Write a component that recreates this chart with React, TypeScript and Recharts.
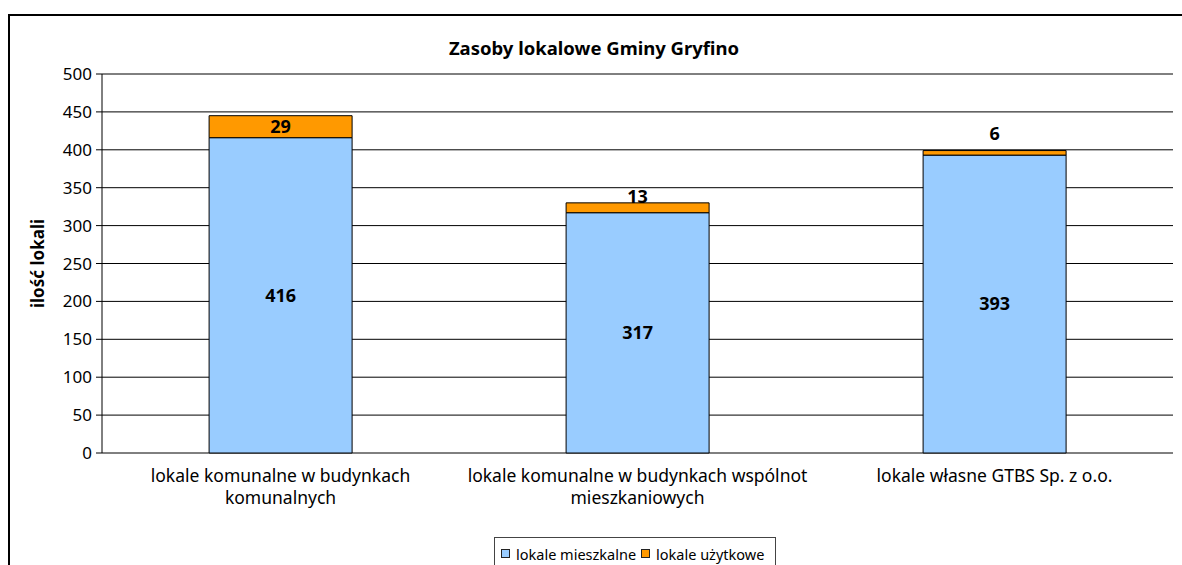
import { BarChart, Bar, XAxis, YAxis, CartesianGrid, LabelList } from "recharts";

const categories = [
  "lokale komunalne w budynkach\nkomunalnych",
  "lokale komunalne w budynkach wspólnot\nmieszkaniowych",
  "lokale własne GTBS Sp. z o.o.",
];
const mieszkalne = [416, 317, 393];
const uzytkowe = [29, 13, 6];
const yTicks = [0, 50, 100, 150, 200, 250, 300, 350, 400, 450, 500];
const edgeTicks = [0, 1, 2, 3];

const data = categories.map((name, i) => ({ name, mieszkalne: mieszkalne[i], uzytkowe: uzytkowe[i] }));

const FONT = "'Noto Sans', sans-serif";
const BLUE = "#99ccff";
const ORANGE = "#ff9900";

function CategoryTick({ x, y, payload }: any) {
  const lines = String(payload.value).split("\n");
  return (
    <text x={x} y={y} textAnchor="middle" fontSize={17.5} fontFamily={FONT} fill="#000">
      {lines.map((l, i) => (
        <tspan key={i} x={x} dy={i === 0 ? 21 : 22}>
          {l}
        </tspan>
      ))}
    </text>
  );
}

// small segments get their label lifted above the bar, like the original
function TopLabel({ x, y, width, height, value }: any) {
  const cy = height >= 16 ? y + height / 2 : y - (26 - 2 * height);
  return (
    <text x={x + width / 2} y={cy} dy="0.35em" textAnchor="middle" fontSize={18} fontWeight="bold" fontFamily={FONT} fill="#000">
      {value}
    </text>
  );
}

function LegendBox() {
  const item = (color: string, text: string) => (
    <span style={{ display: "inline-flex", alignItems: "center", marginRight: 5 }}>
      <span style={{ width: 7, height: 7, background: color, border: "1px solid #222", marginRight: 6, display: "inline-block" }} />
      {text}
    </span>
  );
  return (
    <div
      style={{
        position: "absolute",
        left: 494,
        top: 537,
        width: 282,
        height: 40,
        border: "1px solid #444",
        fontFamily: FONT,
        fontSize: 14.5,
        lineHeight: "20px",
        padding: "4px 0 0 6px",
        boxSizing: "border-box",
        whiteSpace: "nowrap",
      }}
    >
      {item(BLUE, "lokale mieszkalne")}
      {item(ORANGE, "lokale użytkowe")}
    </div>
  );
}

export default function App() {
  return (
    <div style={{ position: "absolute", left: 0, top: 0, width: 1182, height: 565, overflow: "hidden", background: "#fff" }}>
      <div style={{ position: "absolute", left: 8, top: 14, width: 1300, height: 700, border: "2px solid #000" }} />
      <div
        style={{
          position: "absolute",
          left: 0,
          width: 1188,
          top: 35,
          textAlign: "center",
          fontFamily: FONT,
          fontWeight: "bold",
          fontSize: 18.5,
        }}
      >
        Zasoby lokalowe Gminy Gryfino
      </div>
      <div style={{ position: "absolute", left: 0, top: 0 }}>
        <BarChart width={1182} height={565} data={data} margin={{ top: 74, right: 9, left: 8, bottom: 52 }} barCategoryGap="30%">
          <CartesianGrid vertical={false} stroke="#000" />
          <XAxis
            xAxisId="edges"
            type="number"
            domain={[0, 3]}
            ticks={edgeTicks}
            height={0}
            tick={() => <g />}
            tickSize={5}
            tickLine={{ stroke: "#000" }}
            axisLine={{ stroke: "#000" }}
          />
          <XAxis dataKey="name" height={60} axisLine={false} tickLine={false} tick={<CategoryTick />} interval={0} />
          <YAxis
            width={94}
            domain={[0, 500]}
            ticks={yTicks}
            interval={0}
            tickSize={6}
            tickMargin={4}
            axisLine={{ stroke: "#000" }}
            tickLine={{ stroke: "#000" }}
            tick={{ fill: "#000", fontSize: 17, fontFamily: FONT }}
            label={{
              value: "ilość lokali",
              angle: -90,
              position: "insideLeft",
              offset: 30,
              style: { textAnchor: "middle", fontWeight: "bold", fontSize: 17, fontFamily: FONT, fill: "#000" },
            }}
          />
          <Bar dataKey="mieszkalne" stackId="a" fill={BLUE} stroke="#000" strokeWidth={1} isAnimationActive={false}>
            <LabelList dataKey="mieszkalne" position="center" fill="#000" fontSize={18} fontWeight="bold" fontFamily={FONT} />
          </Bar>
          <Bar dataKey="uzytkowe" stackId="a" fill={ORANGE} stroke="#000" strokeWidth={1} isAnimationActive={false}>
            <LabelList dataKey="uzytkowe" content={<TopLabel />} />
          </Bar>
        </BarChart>
      </div>
      <LegendBox />
    </div>
  );
}
